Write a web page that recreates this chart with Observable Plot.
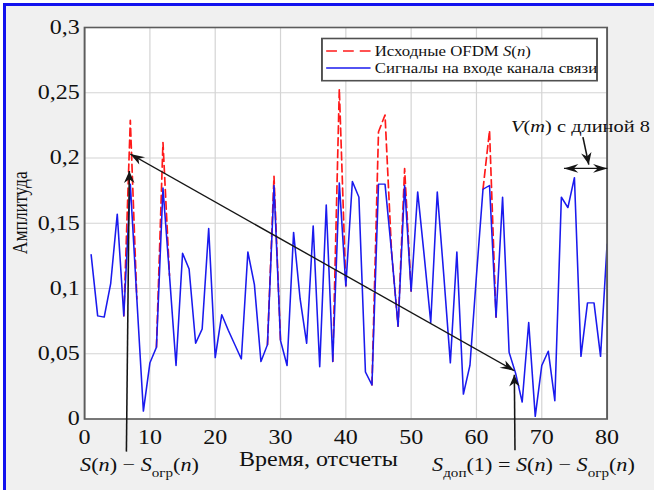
<!DOCTYPE html>
<html><head><meta charset="utf-8">
<script src="https://cdn.jsdelivr.net/npm/d3@7"></script>
<script src="https://cdn.jsdelivr.net/npm/@observablehq/plot@0.6"></script>
<style>
html,body{margin:0;padding:0;background:#fff;width:654px;height:490px;overflow:hidden;}
#bg{position:absolute;left:3px;top:3px;width:670px;height:510px;background:#f0f0f0;border-left:3px solid #1212ee;border-top:3px solid #1212ee;}
#chart{position:absolute;left:0;top:0;transform:scaleX(1.2);transform-origin:0 0;}
#chart svg{max-width:none;}
</style></head><body>
<div id="bg"></div>
<div id="chart"></div>
<script>
// ---- data ----
const sampleIndex = d3.range(1, 81);
const channelInput = [
 0.126,0.079,0.078,0.104,0.157,0.079,0.180,0.092,0.006,0.043,
 0.055,0.177,0.110,0.041,0.127,0.115,0.058,0.069,0.146,0.047,
 0.080,0.068,0.057,0.046,0.128,0.103,0.044,0.057,0.179,0.060,
 0.041,0.143,0.092,0.058,0.148,0.040,0.164,0.044,0.181,0.102,
 0.182,0.170,0.036,0.026,0.180,0.180,0.128,0.071,0.179,0.098,
 0.174,0.125,0.074,0.174,0.110,0.043,0.128,0.019,0.041,0.110,
 0.176,0.179,0.078,0.170,0.051,0.035,0.013,0.074,0.002,0.041,
 0.052,0.014,0.170,0.162,0.185,0.048,0.089,0.089,0.048,0.134];
const originalOFDM = [
 0.126,0.079,0.078,0.104,0.157,0.079,0.229,0.092,0.006,0.043,
 0.055,0.212,0.110,0.041,0.127,0.115,0.058,0.069,0.146,0.047,
 0.080,0.068,0.057,0.046,0.128,0.103,0.044,0.057,0.186,0.060,
 0.041,0.143,0.092,0.058,0.148,0.040,0.164,0.044,0.253,0.102,
 0.182,0.170,0.036,0.026,0.220,0.233,0.128,0.071,0.192,0.098,
 0.174,0.125,0.074,0.174,0.110,0.043,0.128,0.019,0.041,0.110,
 0.176,0.221,0.078,0.170,0.051,0.035,0.013,0.074,0.002,0.041,
 0.052,0.014,0.170,0.162,0.185,0.048,0.089,0.089,0.048,0.134];
const xTicks = [0,10,20,30,40,50,60,70,80];
const yTicks = [0,0.05,0.1,0.15,0.2,0.25,0.3];
const yTickLabels = ["0","0,05","0,1","0,15","0,2","0,25","0,3"];
const xTitle = "Время, отсчеты";
const yTitle = "Амплитуда";
const legendEntries = [
  {parts:[{t:"Исходные OFDM "},{t:"S",i:1},{t:"("},{t:"n",i:1},{t:")"}], color:"#ff1a1a", dash:"9,5"},
  {parts:[{t:"Сигналы на входе канала связи"}], color:"#1a1aee", dash:null}
];
// annotation arrows (data coordinates)
const arrows = [
  {x1:6.4,  y1:-0.025, x2:6.85, y2:0.190, start:false, end:true},
  {x1:7.0,  y1:0.203,  x2:65.8, y2:0.037, start:true,  end:true},
  {x1:65.9, y1:-0.024, x2:65.8, y2:0.034, start:false, end:true},
  {x1:76.3, y1:0.216,  x2:77.2, y2:0.195, start:false, end:true},
  {x1:73.4, y1:0.192,  x2:80.05,y2:0.192, start:true,  end:true}
];
const notes = [
  {x:-0.6, parts:[{t:"S",i:1},{t:"("},{t:"n",i:1},{t:") − "},{t:"S",i:1},{t:"огр",sub:1},{t:"("},{t:"n",i:1},{t:")"}], below:true, size:18.5},
  {x:53.3, parts:[{t:"S",i:1},{t:"доп",sub:1},{t:"(1) = "},{t:"S",i:1},{t:"("},{t:"n",i:1},{t:") − "},{t:"S",i:1},{t:"огр",sub:1},{t:"("},{t:"n",i:1},{t:")"}], below:true, size:18.5},
  {x:65.4, y:0.2195, parts:[{t:"V",i:1},{t:"("},{t:"m",i:1},{t:") с длиной 8"}], below:false, size:17}
];

// ---- layout ----
const W = 545, H = 490;
const ML = 70, MR = W - 505.4, MT = 27, MB = H - 418.5;
const sx = Plot.scale({x:{domain:[0,80], range:[ML, W - MR]}});
const sy = Plot.scale({y:{domain:[0,0.3], range:[H - MB, MT]}});

// show the dashed original only where it departs from the channel signal
const same = i => originalOFDM[i] === channelInput[i];
const originalVisible = originalOFDM.map((v, i) => (!same(i) || !same(i - 1) || !same(i + 1)) ? v : NaN);

const heads = [];
for (const a of arrows) {
  const ang = Math.atan2(sy.apply(a.y2) - sy.apply(a.y1), sx.apply(a.x2) - sx.apply(a.x1)) * 180 / Math.PI;
  if (a.end) heads.push({x:a.x2, y:a.y2, rotate:ang});
  if (a.start) heads.push({x:a.x1, y:a.y1, rotate:ang + 180});
}
const vback = {
  draw(ctx, size) {
    const r = Math.sqrt(size / Math.PI);
    const L = r * 2.6, Wd = r * 0.95;
    ctx.moveTo(0, 0);
    ctx.lineTo(-L, -Wd);
    ctx.lineTo(-0.68 * L, 0);
    ctx.lineTo(-L, Wd);
    ctx.closePath();
  }
};

const plot = Plot.plot({
  width: W, height: H,
  marginLeft: ML, marginRight: MR, marginTop: MT, marginBottom: MB,
  x: {domain:[0,80]}, y: {domain:[0,0.3]},
  style: {fontFamily:"'Liberation Serif', 'Times New Roman', serif", fontSize:"20px", background:"transparent", color:"#111", overflow:"visible"},
  marks: [
    Plot.frame({fill:"white", stroke:"none"}),
    Plot.gridX(xTicks, {stroke:"#d4d4d4", strokeOpacity:1}),
    Plot.gridY(yTicks, {stroke:"#d4d4d4", strokeOpacity:1}),
    Plot.line(sampleIndex, {x:d => d, y:(d, i) => originalVisible[i], stroke:"#ff1a1a", strokeWidth:1.4, strokeDasharray:"8,4"}),
    Plot.line(sampleIndex, {x:d => d, y:(d, i) => channelInput[i], stroke:"#1a1aee", strokeWidth:1.3}),
    Plot.frame({stroke:"#5c5c5c", strokeWidth:1.6}),
    Plot.axisX(xTicks, {tickSize:0, tickPadding:11, label:null, fontSize:20}),
    Plot.axisY(yTicks, {tickSize:0, tickPadding:4, label:null, fontSize:20, tickFormat:d => yTickLabels[yTicks.indexOf(d)]}),
    Plot.link(arrows, {x1:"x1", y1:"y1", x2:"x2", y2:"y2", stroke:"#151515", strokeWidth:1.3}),
    Plot.dot(heads, {x:"x", y:"y", rotate:"rotate", symbol:vback, r:4.6, fill:"#151515", stroke:"none"}),
    Plot.text([xTitle], {x:[35.8], frameAnchor:"bottom", dy:47, text:d => d, fontSize:20, fill:"#111"}),
    Plot.text([yTitle], {frameAnchor:"left", textAnchor:"middle", dx:-54, dy:-10.5, rotate:-90, text:d => d, fontSize:17.5, fill:"#111"})
  ]
});
document.getElementById("chart").appendChild(plot);

// ---- rich text annotations ----
const svg = d3.select(plot);
const fam = "'Liberation Serif', 'Times New Roman', serif";
function rich(g, parts, x, y, size, anchor) {
  const t = g.append("text").attr("x", x).attr("y", y).attr("font-size", size)
    .attr("font-family", fam).attr("text-anchor", anchor || "start").attr("fill", "#111");
  let shift = 0;
  for (const p of parts) {
    const s = t.append("tspan").text(p.t);
    if (p.i) s.attr("font-style", "italic");
    const target = p.sub ? 0.3 * size : 0;
    if (target !== shift) { s.attr("dy", target - shift); shift = target; }
    if (p.sub) s.attr("font-size", size * 0.68);
  }
  return t;
}
const ann = svg.append("g");
for (const n of notes) {
  const y = n.below ? sy.apply(0) + 53 : sy.apply(n.y);
  rich(ann, n.parts, sx.apply(n.x), y, n.size);
}

// ---- legend ----
const lg = svg.append("g");
const bx = 268.3, by = 38.5, bw = 229.2, bh = 42.2;
lg.append("rect").attr("x", bx).attr("y", by).attr("width", bw).attr("height", bh)
  .attr("fill", "white").attr("stroke", "#505050").attr("stroke-width", 1.6);
legendEntries.forEach((e, k) => {
  const yy = by + 12.5 + k * 17;
  lg.append("line").attr("x1", bx + 3.5).attr("x2", bx + 40.5).attr("y1", yy).attr("y2", yy)
    .attr("stroke", e.color).attr("stroke-width", 1.3).attr("stroke-dasharray", e.dash);
  rich(lg, e.parts, bx + 44, yy + 5, 14);
});
</script>
</body></html>
